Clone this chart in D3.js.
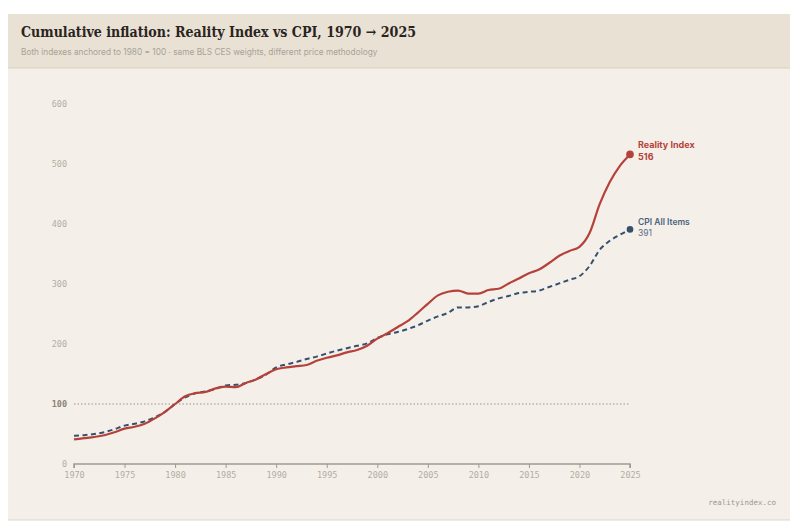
<!DOCTYPE html>
<html><head><meta charset="utf-8">
<script src="https://cdn.jsdelivr.net/npm/d3@7"></script>
<style>
html,body{margin:0;padding:0;background:#ffffff;}
svg{display:block;}
</style></head>
<body>
<svg id="chart" width="800" height="530"></svg>
<script>
const years = d3.range(1970, 2026);
const realityIndex = [41,43,45,48,53,59,62,67,76,87,100,113,118,120,126,129,128,135,141,150,158,161,163,165,172,177,181,186,190,197,209,218,228,238,252,267,281,287,289,284,284,290,292,301,309,318,324,335,347,355,362,385,433,470,497,516];
const cpiAllItems = [47,48,50,53,58,64,67,71,78,87,100,111,118,121,125,131,132,135,141,149,161,166,170,175,179,184,189,193,197,201,210,216,220,225,231,239,246,252,261,261,263,270,276,280,285,287,289,295,301,307,313,330,357,372,382,391];
const yTicks = [0,100,200,300,400,500,600];
const xTicks = [1970,1975,1980,1985,1990,1995,2000,2005,2010,2015,2020,2025];
const title = "Cumulative inflation: Reality Index vs CPI, 1970 \u2192 2025";
const subtitle = "Both indexes anchored to 1980 = 100 \u00b7 same BLS CES weights, different price methodology";

const svg = d3.select("#chart");
const RED = "#b5423a", BLUE = "#34506c";
const mono = "'DejaVu Sans Mono', 'Liberation Mono', monospace";
const sans = "Inter, 'Noto Sans', sans-serif";

// card
svg.append("rect").attr("x",8).attr("y",14).attr("width",782).attr("height",506).attr("fill","#f4f0e9");
svg.append("rect").attr("x",8).attr("y",14).attr("width",782).attr("height",54).attr("fill","#e8e1d4");
svg.append("line").attr("x1",8).attr("x2",790).attr("y1",68).attr("y2",68).attr("stroke","#d9d1c2");
svg.append("line").attr("x1",8).attr("x2",790).attr("y1",520).attr("y2",520).attr("stroke","#ddd6ca");

svg.append("text").attr("x",21).attr("y",37).text(title)
  .attr("font-family","'DejaVu Serif', serif").attr("font-weight","bold").attr("font-size",14.2).attr("fill","#2a241e")
  .attr("textLength",395).attr("lengthAdjust","spacingAndGlyphs");
svg.append("text").attr("x",21).attr("y",55).text(subtitle)
  .attr("font-family",sans).attr("font-size",8.3).attr("fill","#a9a195");

const x = d3.scaleLinear().domain([1970,2025]).range([74,630]);
const y = d3.scaleLinear().domain([0,600]).range([464,104]);

// y labels
const yAxis = d3.axisLeft(y).tickValues(yTicks).tickSize(0).tickPadding(7);
const gy = svg.append("g").attr("transform","translate(74,0)").call(yAxis);
gy.select(".domain").remove();
gy.selectAll("text").attr("font-family",mono).attr("font-size",8.5)
  .attr("fill",d=>d===100?"#8a8378":"#b3ada4").attr("font-weight",d=>d===100?"bold":"normal");

// 100 reference
svg.append("line").attr("x1",x(1970)).attr("x2",x(2025)).attr("y1",y(100)).attr("y2",y(100))
  .attr("stroke","#9b958c").attr("stroke-width",1.1).attr("stroke-dasharray","1.5,2");

// x axis
const xAxis = d3.axisBottom(x).tickValues(xTicks).tickFormat(d3.format("d")).tickSize(4).tickPadding(4);
const gx = svg.append("g").attr("transform",`translate(0,${y(0)})`).call(xAxis);
gx.select(".domain").attr("stroke","#a09a91").attr("stroke-width",1.5).attr("d",`M${x(1970)},4V0H${x(2025)}V4`);
gx.selectAll(".tick line").attr("stroke","#a09a91");
gx.selectAll("text").attr("font-family",mono).attr("font-size",8.5).attr("fill","#b3ada4");

const line = d3.line().x((d,i)=>x(years[i])).y(d=>y(d)).curve(d3.curveMonotoneX);

svg.append("path").datum(cpiAllItems).attr("d",line).attr("fill","none")
  .attr("stroke",BLUE).attr("stroke-width",2).attr("stroke-dasharray","5,3.5");
svg.append("path").datum(realityIndex).attr("d",line).attr("fill","none")
  .attr("stroke",RED).attr("stroke-width",2.2);

const last = years.length-1;
svg.append("circle").attr("cx",x(years[last])).attr("cy",y(realityIndex[last])).attr("r",3.8).attr("fill",RED);
svg.append("circle").attr("cx",x(years[last])).attr("cy",y(cpiAllItems[last])).attr("r",3.3).attr("fill",BLUE);

const lx = x(years[last]) + 8;
svg.append("text").attr("x",lx).attr("y",y(realityIndex[last]) - 6).text("Reality Index")
  .attr("font-family",sans).attr("font-weight","bold").attr("font-size",9).attr("fill",RED);
svg.append("text").attr("x",lx).attr("y",y(realityIndex[last]) + 6).text(realityIndex[last])
  .attr("font-family",sans).attr("font-weight","bold").attr("font-size",9).attr("fill",RED);
svg.append("text").attr("x",lx).attr("y",y(cpiAllItems[last]) - 4).text("CPI All Items")
  .attr("font-family",sans).attr("font-weight","600").attr("font-size",8.5).attr("fill","#4a6280");
svg.append("text").attr("x",lx).attr("y",y(cpiAllItems[last]) + 7).text(cpiAllItems[last])
  .attr("font-family",sans).attr("font-size",8.5).attr("fill","#5a6f88");

svg.append("text").attr("x",776).attr("y",505).attr("text-anchor","end").text("realityindex.co")
  .attr("font-family",mono).attr("font-size",7.5).attr("fill","#9d978d");
</script>
</body></html>
